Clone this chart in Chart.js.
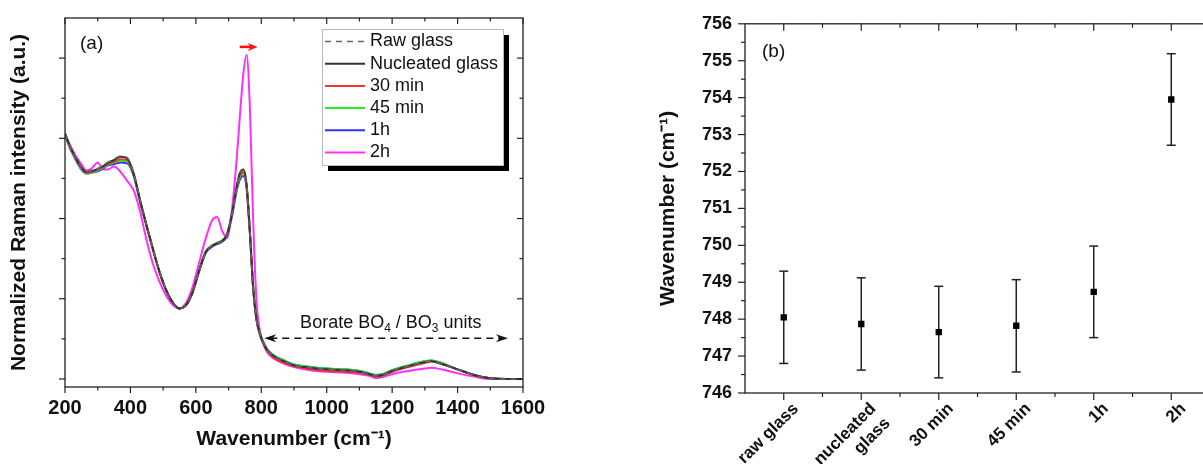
<!DOCTYPE html>
<html><head><meta charset="utf-8">
<script src="https://cdn.jsdelivr.net/npm/chart.js@4.4.0/dist/chart.umd.min.js"></script>
<style>
html,body{margin:0;padding:0;background:#fff;overflow:hidden;width:1203px;height:464px;}
#ca{position:absolute;left:0;top:0;}
#cb{position:absolute;left:640px;top:0;}
</style></head><body>
<canvas id="ca" width="560" height="464"></canvas>
<canvas id="cb" width="620" height="464"></canvas>
<script>
// ---------------- DATA (panel a) ----------------
const wavenumber = [200,215,230,250,265,280,300,315,330,350,370,390,410,430,450,470,490,510,530,550,570,590,610,630,650,665,680,695,710,725,735,745,755,765,775,785,795,805,820,840,870,900,950,1000,1050,1100,1130,1150,1170,1200,1250,1300,1320,1350,1400,1450,1500,1550,1600];
const rawGlass =       [3.06,2.90,2.78,2.64,2.58,2.59,2.62,2.66,2.70,2.74,2.78,2.76,2.57,2.23,1.91,1.61,1.33,1.10,0.95,0.88,0.92,1.08,1.35,1.57,1.66,1.69,1.72,1.80,2.05,2.40,2.56,2.60,2.42,1.85,1.15,0.75,0.57,0.46,0.35,0.28,0.22,0.17,0.14,0.12,0.11,0.09,0.06,0.04,0.05,0.10,0.16,0.21,0.22,0.19,0.12,0.05,0.01,0.00,0.00];
const nucleatedGlass = [3.06,2.90,2.78,2.64,2.58,2.59,2.62,2.65,2.69,2.73,2.77,2.75,2.56,2.22,1.90,1.60,1.32,1.10,0.95,0.88,0.92,1.08,1.35,1.58,1.66,1.69,1.72,1.80,2.05,2.41,2.57,2.61,2.43,1.85,1.15,0.75,0.57,0.46,0.35,0.28,0.22,0.17,0.14,0.12,0.11,0.09,0.06,0.04,0.05,0.10,0.16,0.21,0.22,0.19,0.12,0.05,0.01,0.00,0.00];
const min30 =          [3.06,2.89,2.77,2.63,2.57,2.58,2.61,2.64,2.68,2.71,2.74,2.73,2.55,2.21,1.90,1.60,1.32,1.10,0.95,0.88,0.92,1.08,1.35,1.58,1.66,1.69,1.72,1.80,2.05,2.39,2.54,2.58,2.41,1.84,1.15,0.75,0.56,0.45,0.34,0.26,0.20,0.16,0.12,0.10,0.09,0.08,0.05,0.03,0.04,0.09,0.15,0.20,0.22,0.19,0.12,0.05,0.01,0.00,0.00];
const min45 =          [3.05,2.88,2.76,2.62,2.56,2.57,2.60,2.63,2.67,2.70,2.72,2.71,2.54,2.21,1.90,1.60,1.32,1.10,0.95,0.88,0.92,1.08,1.35,1.59,1.67,1.70,1.73,1.80,2.04,2.38,2.52,2.56,2.40,1.84,1.15,0.76,0.58,0.47,0.36,0.29,0.23,0.18,0.15,0.13,0.12,0.10,0.07,0.05,0.06,0.11,0.17,0.22,0.23,0.20,0.12,0.05,0.01,0.00,0.00];
const hour1 =          [3.05,2.88,2.75,2.61,2.56,2.57,2.59,2.62,2.66,2.68,2.70,2.69,2.53,2.20,1.90,1.60,1.32,1.10,0.95,0.88,0.92,1.08,1.34,1.57,1.65,1.68,1.71,1.78,2.02,2.35,2.49,2.53,2.38,1.83,1.15,0.76,0.58,0.47,0.36,0.29,0.23,0.18,0.15,0.13,0.12,0.10,0.07,0.05,0.06,0.11,0.17,0.22,0.23,0.20,0.12,0.05,0.01,0.00,0.00];
const hour2 =          [3.06,2.92,2.80,2.68,2.60,2.62,2.70,2.62,2.61,2.65,2.58,2.47,2.35,2.08,1.72,1.42,1.20,1.03,0.92,0.88,0.95,1.15,1.45,1.75,1.98,2.02,1.85,1.76,2.10,2.75,3.30,3.80,4.04,3.40,2.00,1.00,0.62,0.45,0.32,0.25,0.19,0.15,0.11,0.09,0.08,0.06,0.04,0.01,0.02,0.06,0.10,0.13,0.14,0.12,0.07,0.03,0.00,0.00,0.00];
const seriesLabels = ['Raw glass','Nucleated glass','30 min','45 min','1h','2h'];

// ---------------- DATA (panel b) ----------------
const sampleLabels = ['raw glass', ['nucleated','       glass'], '30 min', '45 min', '1h', '2h'];
const peakPosition = [748.05, 747.87, 747.65, 747.82, 748.74, 753.95];
const peakError    = [1.25, 1.25, 1.24, 1.25, 1.24, 1.24];

// ---------------- STYLE ----------------
const FONT = "'Liberation Sans', Arial, sans-serif";
Chart.defaults.font.family = FONT;
Chart.defaults.color = '#111';
const AXIS = '#222';

const specStyles = [
  {color:'#666', dash:[6,5], width:1.6},
  {color:'#333', dash:[], width:2},
  {color:'#ff3030', dash:[], width:2},
  {color:'#22ee22', dash:[], width:2},
  {color:'#3030ff', dash:[], width:2},
  {color:'#ff30ff', dash:[], width:2}
];
const specValues = [rawGlass, nucleatedGlass, min30, min45, hour1, hour2];

function line(ctx,x1,y1,x2,y2){ctx.beginPath();ctx.moveTo(x1,y1);ctx.lineTo(x2,y2);ctx.stroke();}

function drawFrame(chart, xt, yt){
  const {ctx, chartArea:a} = chart;
  ctx.save();
  ctx.strokeStyle = AXIS; ctx.lineWidth = 1.3; ctx.setLineDash([]);
  ctx.strokeRect(a.left, a.top, a.right-a.left, a.bottom-a.top);
  ctx.lineWidth = 1.2;
  xt.forEach(([px,len])=>{ line(ctx,px,a.bottom,px,a.bottom+len); line(ctx,px,a.top,px,a.top+len); });
  yt.forEach(([py,len])=>{ line(ctx,a.left,py,a.left-len,py); line(ctx,a.right,py,a.right-len,py); });
  ctx.restore();
}

function arrowHead(ctx,x,y,dir,len,half){
  ctx.beginPath();
  ctx.moveTo(x,y);
  ctx.lineTo(x-dir*len,y-half);
  ctx.lineTo(x-dir*len*0.7,y);
  ctx.lineTo(x-dir*len,y+half);
  ctx.closePath(); ctx.fill();
}

const panelA = {
  id:'panelA',
  afterDraw(chart){
    const {ctx, chartArea:a, scales:{x,y}} = chart;
    const xt=[];
    for(let v=200; v<=1600; v+=100) xt.push([x.getPixelForValue(v), v%200===0?6:3.5]);
    const yt=[];
    for(let v=0; v<=4.01; v+=0.5) yt.push([y.getPixelForValue(v), Math.abs(v-Math.round(v))<1e-6?6:3.5]);
    drawFrame(chart, xt, yt);
    ctx.save();
    ctx.fillStyle='#111'; ctx.textBaseline='middle'; ctx.textAlign='left';
    ctx.font = "19px "+FONT;
    ctx.fillText('(a)', a.left+15, a.top+26);
    // red arrow
    ctx.strokeStyle='#ff1010'; ctx.fillStyle='#ff1010'; ctx.lineWidth=2.5;
    const ay=y.getPixelForValue(4.14), ax1=x.getPixelForValue(734), ax2=x.getPixelForValue(789);
    line(ctx,ax1,ay,ax2-5,ay);
    arrowHead(ctx,ax2,ay,1,10,4);
    // borate arrow
    ctx.strokeStyle='#111'; ctx.fillStyle='#111'; ctx.lineWidth=1.6;
    const by=y.getPixelForValue(0.507), bx1=x.getPixelForValue(809), bx2=x.getPixelForValue(1554);
    ctx.setLineDash([7,5]);
    line(ctx,bx1+6,by,bx2-6,by);
    ctx.setLineDash([]);
    arrowHead(ctx,bx1,by,-1,12,4);
    arrowHead(ctx,bx2,by,1,12,4);
    // borate text with subscripts
    const parts=[['Borate BO',0],['4',1],[' / BO',0],['3',1],[' units',0]];
    const fMain="18px "+FONT, fSub="12px "+FONT;
    let total=0; parts.forEach(p=>{ctx.font=p[1]?fSub:fMain; total+=ctx.measureText(p[0]).width;});
    let tx = x.getPixelForValue(1196)-total/2, ty = y.getPixelForValue(0.70);
    ctx.fillStyle='#111';
    parts.forEach(p=>{ctx.font=p[1]?fSub:fMain; ctx.fillText(p[0],tx,ty+(p[1]?6:0)); tx+=ctx.measureText(p[0]).width;});
    // legend
    const bxL=a.left+257, byT=a.top+11, bw=181, bh=136;
    ctx.fillStyle='#000'; ctx.fillRect(bxL+6,byT+6,bw,bh);
    ctx.fillStyle='#fff'; ctx.fillRect(bxL,byT,bw,bh);
    ctx.strokeStyle='#bbb'; ctx.lineWidth=1; ctx.strokeRect(bxL+0.5,byT+0.5,bw,bh);
    chart.data.datasets.forEach((ds,i)=>{
      const ry=byT+12.5+i*22.2;
      ctx.strokeStyle=ds.borderColor; ctx.lineWidth=ds.borderWidth; ctx.setLineDash(ds.borderDash||[]);
      line(ctx,bxL+3,ry,bxL+43,ry);
      ctx.setLineDash([]);
      ctx.fillStyle='#111'; ctx.font="18px "+FONT;
      ctx.fillText(ds.label,bxL+48,ry);
    });
    ctx.restore();
  }
};

new Chart(document.getElementById('ca'), {
  type:'line',
  data:{datasets: specValues.map((vals,k)=>({
    label: seriesLabels[k],
    data: wavenumber.map((w,i)=>({x:w, y:vals[i]})),
    borderColor: specStyles[k].color,
    borderDash: specStyles[k].dash,
    borderWidth: specStyles[k].width,
    pointRadius:0, fill:false, cubicInterpolationMode:'monotone'
  }))},
  options:{
    responsive:false, animation:false, devicePixelRatio:1,
    layout:{padding:{top:18,right:37,left:0,bottom:0}},
    plugins:{legend:{display:false}, tooltip:{enabled:false}},
    scales:{
      x:{type:'linear', min:200, max:1600,
         afterFit:s=>{s.height=77;},
         grid:{display:false, drawTicks:false}, border:{display:false},
         ticks:{stepSize:200, padding:9, maxRotation:0, autoSkip:false, color:'#111', font:{size:20, weight:'bold'},
                callback:v=>String(v)},
         title:{display:true, text:'Wavenumber (cm\u207B\u00B9)', color:'#111', font:{size:21, weight:'bold'}, padding:{top:0,bottom:12}}},
      y:{min:-0.1, max:4.5,
         afterFit:s=>{s.width=65;},
         grid:{display:false, drawTicks:false}, border:{display:false},
         ticks:{display:false},
         title:{display:true, text:'Normalized Raman intensity (a.u.)', color:'#111', font:{size:21, weight:'bold'}, padding:{top:7,bottom:0}}}
    }
  },
  plugins:[panelA]
});

const panelB = {
  id:'panelB',
  beforeDatasetsDraw(chart){
    const {ctx, scales:{x,y}} = chart;
    ctx.save(); ctx.strokeStyle='#222'; ctx.lineWidth=1.5;
    peakPosition.forEach((v,i)=>{
      const px=x.getPixelForValue(i), t=y.getPixelForValue(v+peakError[i]), b=y.getPixelForValue(v-peakError[i]);
      line(ctx,px,t,px,b); line(ctx,px-4.5,t,px+4.5,t); line(ctx,px-4.5,b,px+4.5,b);
    });
    ctx.restore();
  },
  afterDraw(chart){
    const {ctx, chartArea:a, scales:{x,y}} = chart;
    const xt=[];
    const n=sampleLabels.length;
    for(let i=0;i<n;i++){ xt.push([x.getPixelForValue(i),7]); if(i<n-1) xt.push([(x.getPixelForValue(i)+x.getPixelForValue(i+1))/2,4]); }
    const yt=[];
    for(let v=746; v<=756; v+=0.5) yt.push([y.getPixelForValue(v), v%1===0?7:4]);
    drawFrame(chart, xt, yt);
    ctx.save(); ctx.fillStyle='#111'; ctx.textBaseline='middle'; ctx.font="19px "+FONT;
    ctx.fillText('(b)', a.left+17, a.top+28);
    ctx.restore();
  }
};

new Chart(document.getElementById('cb'), {
  type:'line',
  data:{labels: sampleLabels, datasets:[{
    label:'Peak position', data: peakPosition, showLine:false,
    pointStyle:'rect', pointRadius:4.5, backgroundColor:'#000', borderColor:'#000', borderWidth:0
  }]},
  options:{
    responsive:false, animation:false, devicePixelRatio:1,
    layout:{padding:{top:19,right:50,left:0,bottom:0}},
    plugins:{legend:{display:false}, tooltip:{enabled:false}},
    scales:{
      x:{type:'category', offset:true,
         afterFit:s=>{s.height=71;},
         grid:{display:false, drawTicks:false, offset:true}, border:{display:false},
         ticks:{minRotation:45, maxRotation:45, autoSkip:false, padding:6, labelOffset:12, color:'#111', font:{size:17, weight:'bold'}}},
      y:{min:746, max:756,
         afterFit:s=>{s.width=105;},
         grid:{display:false, drawTicks:false}, border:{display:false},
         ticks:{stepSize:1, padding:13, color:'#111', font:{size:18, weight:'bold'}},
         title:{display:true, text:'Wavenumber (cm\u207B\u00B9)', color:'#111', font:{size:21, weight:'bold'}, padding:{top:16,bottom:0}}}
    }
  },
  plugins:[panelB]
});
</script>
</body></html>
